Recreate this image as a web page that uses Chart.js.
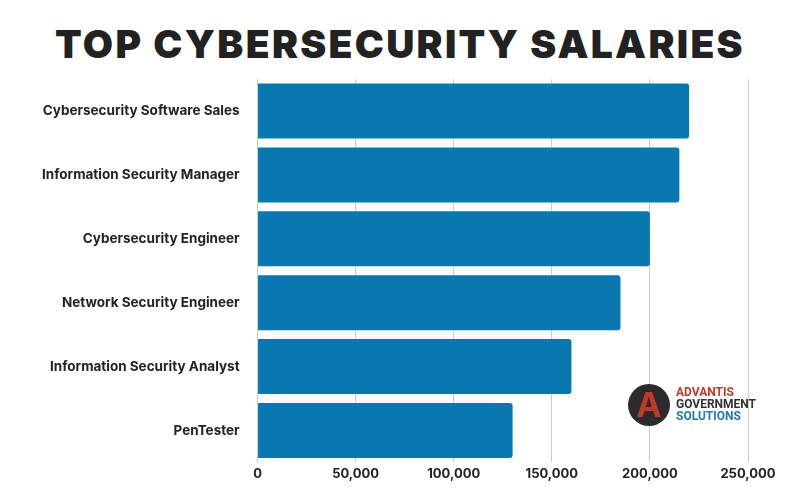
<!DOCTYPE html>
<html><head><meta charset="utf-8">
<script src="https://cdn.jsdelivr.net/npm/chart.js@4"></script>
<style>
body{margin:0;background:#fff;width:800px;height:500px;overflow:hidden;font-family:Inter,sans-serif}
#t{position:absolute;top:20px;left:0;width:800px;text-align:center;font:900 39px Inter;letter-spacing:2.3px;color:#222}
#c{position:absolute;left:0;top:61px;width:800px;height:425px}
#logo{position:absolute;left:628px;top:384px;width:140px;height:44px}
#logo .ci{position:absolute;left:0;top:0;width:42px;height:42px;border-radius:50%;background:#2b2b2b;color:#c0392b;font:700 34px Inter;text-align:center;line-height:42px}
#logo .tx{position:absolute;left:48px;top:2px;font:700 12px "Liberation Sans Narrow",Roboto;line-height:12px}
</style></head><body>
<div id="t">TOP CYBERSECURITY SALARIES</div>
<div id="c"><canvas id="cv"></canvas></div>
<div id="logo"><div class="ci">A</div><div class="tx"><span style="color:#c0392b">ADVANTIS</span><br><span style="color:#333">GOVERNMENT</span><br><span style="color:#1f7ab5">SOLUTIONS</span></div></div>
<script>
const categories=["Cybersecurity Software Sales","Information Security Manager","Cybersecurity Engineer","Network Security Engineer","Information Security Analyst","PenTester"];
const salaries=[220000,215000,200000,185000,160000,130000];
const tickValues=[0,50000,100000,150000,200000,250000];
new Chart(document.getElementById('cv'),{
type:'bar',
data:{labels:categories,datasets:[{data:salaries,backgroundColor:'#0a78b0',borderRadius:3,barPercentage:0.86,categoryPercentage:1}]},
options:{indexAxis:'y',responsive:true,maintainAspectRatio:false,animation:false,
layout:{padding:{left:32,right:52,top:13,bottom:0}},
plugins:{legend:{display:false},tooltip:{enabled:false}},
scales:{
x:{min:0,max:250000,afterBuildTicks:a=>{a.ticks=tickValues.map(v=>({value:v}))},
 ticks:{color:'#222',font:{family:'Inter',size:13,weight:'bold'},callback:v=>v.toLocaleString('en-US'),padding:4},
 grid:{color:'#ccc',drawTicks:false},border:{display:false}},
y:{ticks:{color:'#222',font:{family:'Inter',size:13.5,weight:'bold'},padding:10},
 grid:{display:false},border:{color:'#ccc'}}
}}});
</script></body></html>
